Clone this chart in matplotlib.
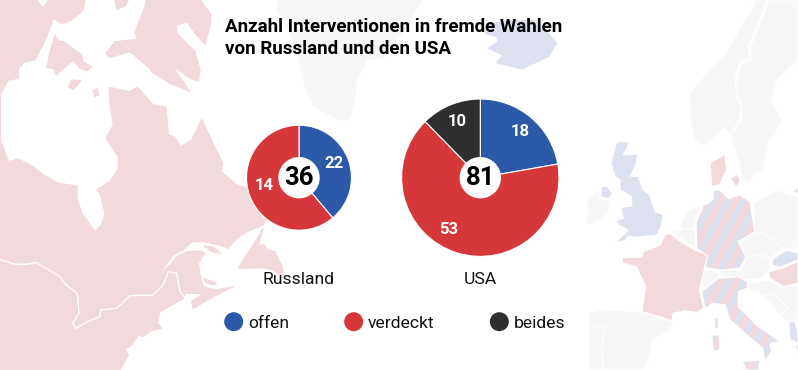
import matplotlib.pyplot as plt
from matplotlib.patches import Polygon, Circle

# chart data
LAENDER = ["Russland", "USA"]
TOTALS = [36, 81]
# wedge sizes in clockwise order offen, verdeckt, beides
RUSSLAND_SIZES = [14, 22]
USA_SIZES = [18, 53, 10]
# the printed labels of the russian pie are swapped in the original
RUSSLAND_LABELS = ["22", "14"]
USA_LABELS = ["18", "53", "10"]
LEGEND_NAMES = ["offen", "verdeckt", "beides"]
TITLE_LINES = ["Anzahl Interventionen in fremde Wahlen", "von Russland und den USA"]

BLUE = "#2c59a8"
RED = "#d5373b"
DARK = "#2f2f2f"
PINK = "#f2d9db"
PALE_BLUE = "#dde0ee"
GREY = "#f7f7f7"
SLICE_COLORS = [BLUE, RED, DARK]

FONT = "Roboto"

# background map outlines, traced in 3x zoom pixels
AMERICA = [(0, 0), (110, 0), (130, 25), (145, 0), (255, 0), (250, 30), (215, 60), (185, 70), (160, 55), (140, 110),
           (105, 180), (75, 185), (55, 205), (55, 235), (25, 240), (0, 285), (0, 415), (25, 485), (55, 477),
           (100, 500), (130, 525), (175, 550), (232, 558), (230, 590), (245, 640), (285, 695), (305, 675), (315, 640),
           (300, 580), (290, 570), (330, 545), (355, 505), (355, 470), (318, 415), (340, 375), (330, 310), (328, 262),
           (390, 275), (412, 262), (460, 315), (498, 322), (505, 405), (525, 412), (542, 440), (575, 420), (605, 358),
           (668, 490), (663, 515), (710, 555), (760, 570), (798, 655), (790, 675), (740, 695), (710, 715), (685, 745),
           (660, 735), (610, 725), (575, 725), (550, 750), (520, 765), (470, 832), (510, 795), (530, 770), (560, 755),
           (600, 753), (615, 760), (595, 790), (600, 825), (610, 860), (650, 870), (700, 860), (640, 890), (580, 925),
           (575, 905), (610, 880), (555, 880), (550, 895), (480, 935), (472, 970), (485, 985), (420, 1000), (405, 1020),
           (390, 1040), (375, 1045), (385, 1065), (360, 1110), (0, 1110)]
BAFFIN = [(438, 0), (435, 20), (405, 95), (412, 118), (345, 125), (318, 160), (330, 172), (390, 155), (450, 205),
          (455, 215), (510, 250), (570, 275), (515, 195), (570, 235), (595, 243), (600, 210), (585, 155), (530, 100),
          (530, 75), (560, 65), (590, 105), (615, 133), (632, 70), (632, 42), (600, 0)]
ISLANDS = [[(345, 0), (385, 0), (375, 18), (350, 28)],
           [(165, 105), (178, 125), (190, 125), (245, 165), (248, 185), (275, 200), (262, 212), (240, 205), (220, 180),
            (168, 225), (160, 205), (140, 203), (152, 150)],
           [(205, 262), (215, 240), (243, 242), (220, 268)],
           [(280, 272), (292, 265), (295, 285), (285, 290)],
           [(612, 738), (640, 742), (662, 760), (635, 755)],
           [(610, 835), (650, 850), (640, 855), (615, 845)],
           [(415, 1005), (450, 995), (430, 1010)],
           [(790, 685), (775, 735), (795, 735), (800, 750), (825, 755), (835, 780), (845, 795), (850, 830), (820, 810),
            (790, 803), (715, 805), (730, 780), (760, 735)]]
BORDER = [(0, 778), (40, 792), (80, 793), (108, 787), (180, 830), (195, 852), (232, 880), (237, 940), (218, 970),
          (228, 985), (262, 965), (300, 950), (302, 930), (350, 925), (390, 887), (460, 885), (490, 855), (505, 815),
          (530, 820), (540, 875), (552, 890)]

GREENLAND = [(175, 0), (170, 25), (230, 140), (255, 260), (285, 320), (360, 360), (385, 360), (405, 300), (405, 250),
             (440, 180), (490, 170), (560, 80), (605, 0)]
ICELAND = [(795, 100), (830, 110), (835, 125), (805, 145), (850, 165), (830, 188), (905, 207), (985, 170), (1010, 130),
           (975, 90), (940, 62), (860, 62), (800, 75)]

EUROPE_PINK = [[(315, 705), (330, 700), (355, 720), (405, 750), (445, 765), (435, 800), (418, 870), (432, 925),
                (410, 938), (375, 932), (340, 940), (335, 962), (300, 950), (245, 935), (257, 860), (230, 800),
                (187, 790), (187, 772), (245, 772), (250, 755), (300, 735)],
               [(495, 462), (500, 510), (478, 555), (455, 560), (450, 490)],
               [(510, 535), (535, 522), (540, 545), (528, 562)],
               [(625, 815), (665, 805), (714, 785), (714, 850), (670, 860), (630, 835)],
               [(705, 1040), (714, 1030), (714, 1060)]]
EUROPE_BLUE = [[(170, 425), (210, 425), (190, 465), (233, 462), (228, 495), (210, 528), (235, 530), (250, 570),
                (270, 585), (285, 635), (310, 643), (303, 680), (290, 705), (225, 712), (205, 710), (195, 722),
                (163, 730), (205, 690), (175, 675), (172, 660), (190, 655), (182, 622), (215, 618), (215, 590),
                (180, 570), (180, 540), (165, 530), (153, 490)],
               [(125, 560), (140, 558), (157, 580), (147, 597), (122, 590)],
               [(640, 775), (680, 750), (714, 760), (714, 780), (660, 802), (635, 795)],
               [(686, 965), (705, 965), (714, 1000), (714, 1030), (690, 1020)],
               [(695, 575), (714, 560), (714, 582)]]
EUROPE_GREY = [[(590, 0), (622, 0), (565, 140), (570, 175), (540, 182), (525, 240), (530, 290), (545, 315), (535, 365),
                (510, 405), (495, 385), (430, 440), (405, 420), (395, 395), (387, 280), (440, 220), (490, 170)],
               [(628, 0), (714, 0), (714, 180), (650, 240), (635, 300), (665, 360), (645, 405), (625, 420), (610, 510),
                (585, 520), (570, 545), (548, 540), (535, 480), (512, 410), (545, 360), (545, 310), (530, 285),
                (530, 240), (545, 190), (575, 180), (570, 145)],
               [(120, 565), (118, 595), (150, 605), (145, 640), (100, 672), (75, 672), (85, 630), (80, 600)],
               [(365, 665), (385, 630), (425, 615), (405, 670), (400, 685), (360, 690)],
               [(335, 695), (380, 685), (405, 690), (408, 745), (375, 725)],
               [(580, 610), (650, 570), (714, 590), (714, 745), (670, 745), (620, 705), (585, 695)],
               [(535, 725), (585, 695), (620, 705), (670, 745), (635, 772), (595, 765), (558, 775)],
               [(480, 812), (540, 808), (560, 775), (595, 765), (630, 772), (630, 810), (605, 835), (555, 838), (480, 825)],
               [(405, 840), (430, 808), (475, 815), (480, 835), (435, 865), (420, 858)],
               [(565, 850), (610, 840), (714, 860), (714, 960), (680, 965), (640, 925), (600, 880), (565, 870)],
               [(610, 885), (640, 880), (685, 925), (660, 945)],
               [(85, 940), (120, 928), (240, 935), (300, 955), (340, 965), (330, 990), (280, 1020), (270, 1070),
                (250, 1110), (85, 1110)]]
EUROPE_STRIPED = [[(460, 570), (480, 570), (505, 595), (540, 585), (570, 605), (575, 640), (585, 695), (535, 725),
                   (558, 770), (540, 805), (480, 810), (435, 802), (442, 768), (410, 745), (408, 670), (430, 615),
                   (445, 610), (460, 595)],
                  [(425, 875), (475, 835), (535, 830), (562, 845), (562, 865), (535, 875), (535, 920), (590, 975),
                   (660, 1025), (630, 1030), (635, 1055), (615, 1085), (608, 1045), (555, 1000), (510, 960), (495, 915),
                   (460, 910), (435, 925)],
                  [(455, 1005), (478, 1005), (480, 1050), (460, 1055)],
                  [(462, 955), (475, 950), (475, 985), (465, 988)],
                  [(545, 1085), (600, 1080), (595, 1110), (560, 1110)]]
PORTUGAL_LINE = [(95, 975), (135, 985), (125, 1040), (130, 1110)]


def to_xy(points, left=0):
    """Turns 3x zoom pixels with a crop offset into axes coordinates."""
    return [(left + x / 3, 370 - y / 3) for x, y in points]


def add_land(ax, outlines, left, color, edge="white"):
    """Adds filled land shapes behind the chart."""
    for outline in outlines:
        ax.add_patch(Polygon(to_xy(outline, left), closed=True, facecolor=color, edgecolor=edge, linewidth=0.9, zorder=1))


def add_striped(ax, outline, left):
    """Adds a country that has pink and pale blue stripes."""
    shape = Polygon(to_xy(outline, left), closed=True, facecolor=PINK, edgecolor="none", zorder=1)
    ax.add_patch(shape)

    # steep stripes, clipped to the country
    for start in range(500, 800, 15):
        stripe, = ax.plot([start, start + 0.55 * 370], [0, 370], color=PALE_BLUE, linewidth=4.7,
                          solid_capstyle="butt", zorder=1.1)
        stripe.set_clip_path(shape)

    ax.add_patch(Polygon(to_xy(outline, left), closed=True, facecolor="none", edgecolor="white", linewidth=0.9, zorder=1.2))


def add_pie(ax, sizes, labels, spots, center, radius, total):
    """Draws one pie with its white centre, total and slice labels."""
    ax.pie(sizes, colors=SLICE_COLORS[:len(sizes)], startangle=90, counterclock=False, center=center, radius=radius,
           wedgeprops={"edgecolor": "white", "linewidth": 0.8, "zorder": 3})
    ax.add_patch(Circle(center, 20.7, facecolor="white", edgecolor="none", zorder=4))
    ax.text(center[0], center[1] - 0.5, str(total), ha="center", va="center", fontsize=18.5, fontweight="bold",
            family=FONT, color="black", zorder=5)
    for label, spot in zip(labels, spots):
        ax.text(spot[0], 370 - spot[1], label, ha="center", va="center", fontsize=12, fontweight="bold",
                family=FONT, color="white", zorder=5)


fig = plt.figure(figsize=(7.98, 3.70), dpi=100)
ax = fig.add_axes([0, 0, 1, 1])

# background map, north america first
add_land(ax, [AMERICA, BAFFIN] + ISLANDS, 0, PINK, edge=PINK)
x, y = zip(*to_xy(BORDER))
ax.plot(x, y, color="white", linewidth=1.0, zorder=1.5)

add_land(ax, [GREENLAND], 220, GREY, edge=GREY)
add_land(ax, [ICELAND], 220, PALE_BLUE, edge=PALE_BLUE)

add_land(ax, EUROPE_GREY, 560, GREY)
add_land(ax, EUROPE_PINK, 560, PINK)
add_land(ax, EUROPE_BLUE, 560, PALE_BLUE)

for outline in EUROPE_STRIPED:
    add_striped(ax, outline, 560)

x, y = zip(*to_xy(PORTUGAL_LINE, 560))
ax.plot(x, y, color="white", linewidth=1.0, zorder=1.5)

# the two pies
add_pie(ax, RUSSLAND_SIZES, RUSSLAND_LABELS, [(334, 164), (264, 186)], (299, 192.3), 52.5, TOTALS[0])
add_pie(ax, USA_SIZES, USA_LABELS, [(520, 132), (449, 229), (457, 121)], (480.3, 192.3), 78.7, TOTALS[1])

# country names under the pies
for name, xpos in zip(LAENDER, [299, 480]):
    ax.text(xpos, 370 - 284, name, ha="center", va="baseline", fontsize=12.6, family=FONT, color="#111111", zorder=5)

# title
for line, ypos in zip(TITLE_LINES, [32, 54]):
    ax.text(225, 370 - ypos, line, ha="left", va="baseline", fontsize=13.5, fontweight="bold", family=FONT,
            color="black", zorder=5)

# legend
for name, color, dot_x, text_x in zip(LEGEND_NAMES, SLICE_COLORS, [233.7, 353.7, 499.3], [248, 368, 514]):
    ax.add_patch(Circle((dot_x, 370 - 321.7), 9.5, facecolor=color, edgecolor="none", zorder=5))
    ax.text(text_x, 370 - 328, name, ha="left", va="baseline", fontsize=12.6, family=FONT, color="#111111", zorder=5)

# pie() resets the limits, so set them last
ax.set_xlim(0, 798)
ax.set_ylim(0, 370)
ax.set_aspect("auto")
ax.axis("off")

plt.savefig("out.png", dpi=100)
